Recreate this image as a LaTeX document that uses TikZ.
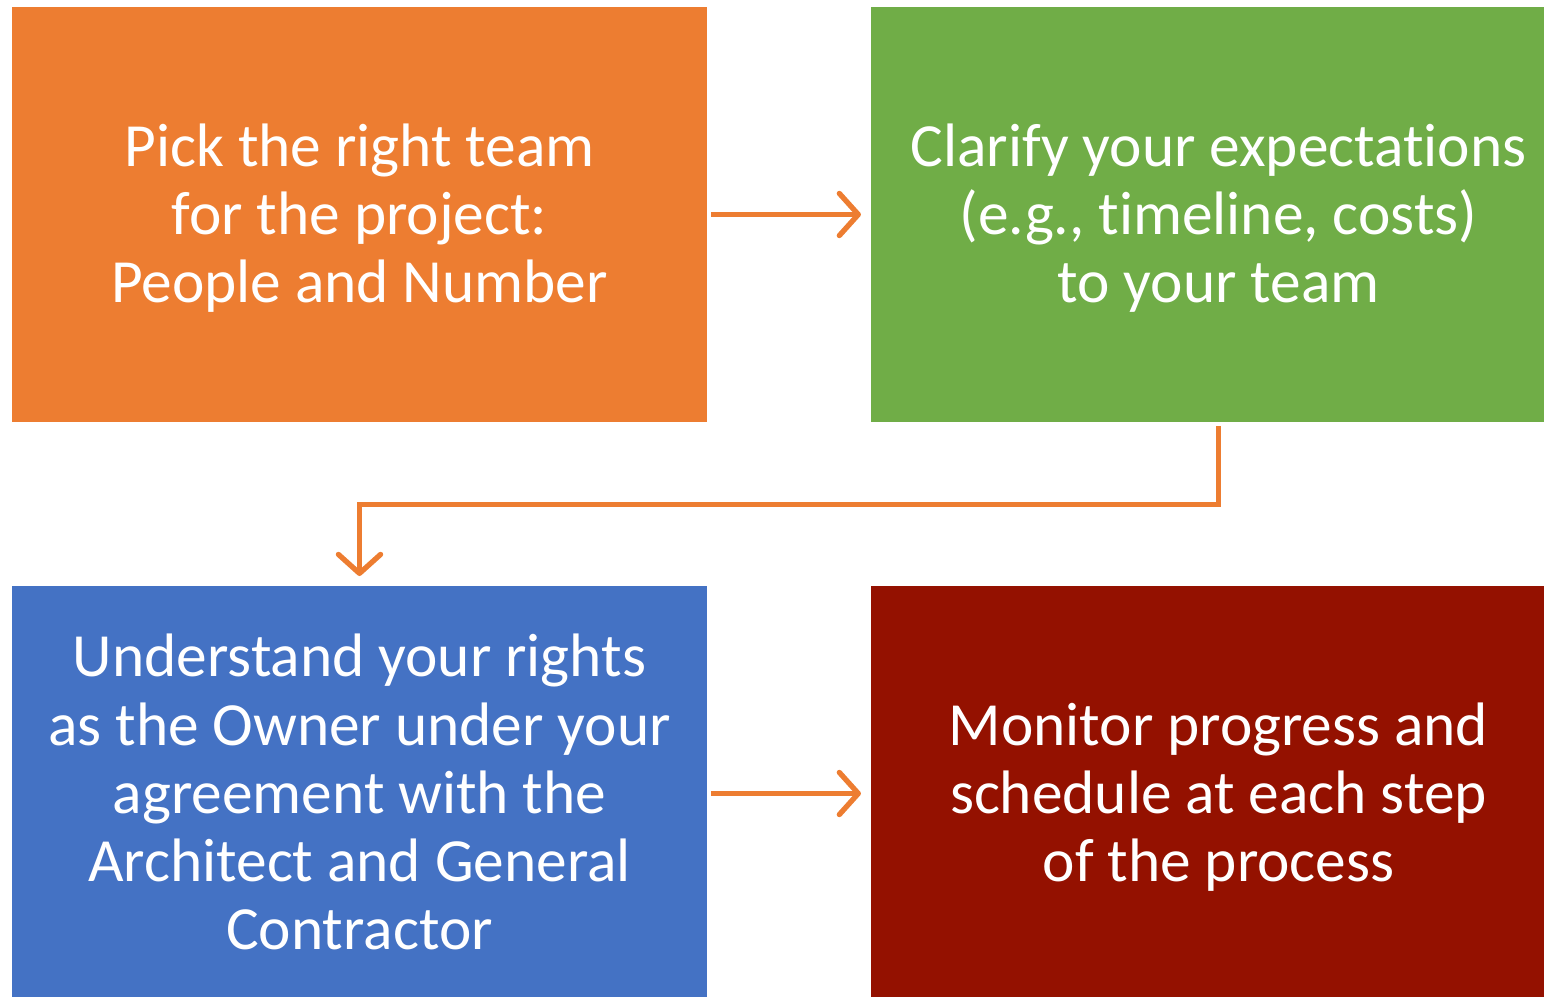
\documentclass[tikz,border=0pt]{standalone}
\usepackage{fontspec}
\setmainfont[Ligatures=NoCommon]{Carlito}
\usetikzlibrary{arrows.meta,positioning}

\definecolor{stepOrange}{HTML}{ED7D31}
\definecolor{stepGreen}{HTML}{70AD47}
\definecolor{stepBlue}{HTML}{4472C4}
\definecolor{stepRed}{HTML}{941100}

\begin{document}
\begin{tikzpicture}
  [x=0.01cm, y=-0.01cm,
   >={Straight Barb[length=5.4pt, width=12pt, line width=1.5pt, line cap=round, line join=round]}]

% page size, in px
\useasboundingbox (0,0) rectangle (1544,997);
\clip (0,0) rectangle (1544,997);

% define styles
\tikzstyle{stepbox} = [rectangle, minimum width=6.95cm, minimum height=4.15cm,
  inner sep=0pt, text depth=0.8pt, align=center, text=white,
  font=\fontsize{17.45}{19.4}\selectfont];
\tikzstyle{flow} = [draw=stepOrange, line width=1.5pt, ->,
  shorten <=0.85pt, shorten >=2.6pt];

% draw nodes
\node[stepbox, fill=stepOrange] (pick) at (359.5,214.5)
  {Pick the right team\\for the project:\\People and Number};
\node[stepbox, fill=stepGreen] (clarify) at (1218.5,214.5)
  {Clarify your expectations\\(e.g., timeline, costs)\\to your team};
\node[stepbox, fill=stepBlue] (rights) at (359.5,793.5)
  {Understand your rights\\as the Owner under your\\agreement with the\\Architect and General\\Contractor};
\node[stepbox, fill=stepRed] (monitor) at (1218.5,793.5)
  {Monitor progress and\\schedule at each step\\of the process};

% draw connectors
\draw[flow] (pick.east) -- (clarify.west);
\draw[flow] (clarify.south) -- ++(0,82) -| (rights.north);
\draw[flow] (rights.east) -- (monitor.west);

\end{tikzpicture}
\end{document}
